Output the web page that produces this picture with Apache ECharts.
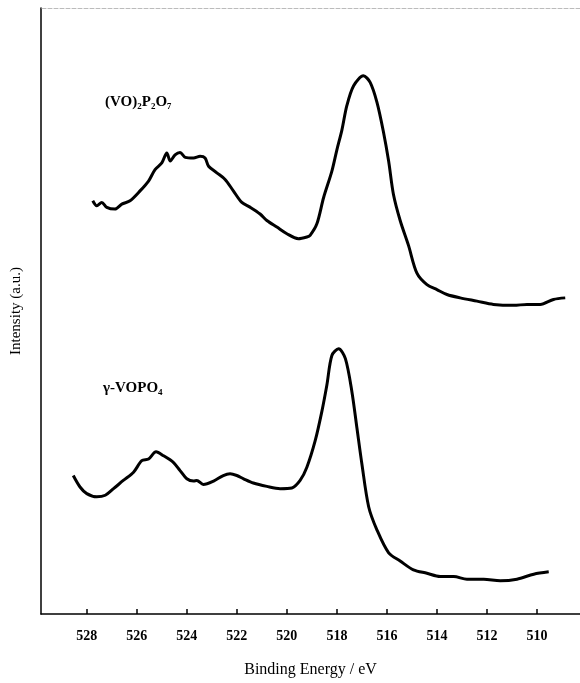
<!DOCTYPE html>
<html>
<head>
<meta charset="utf-8">
<script src="https://cdn.jsdelivr.net/npm/echarts@6/dist/echarts.min.js"></script>
<style>html,body{margin:0;padding:0;background:#fff;}#c{width:580px;height:683px;}</style>
</head>
<body>
<div id="c"></div>
<script>
// Binding energy (eV) and intensity (a.u.) for (VO)2P2O7
const vppEnergy = [527.76,527.60,527.40,527.20,526.87,526.60,526.27,525.87,525.53,525.27,525.00,524.80,524.66,524.47,524.27,524.06,523.73,523.47,523.27,523.13,522.80,522.47,522.14,521.80,521.46,521.07,520.80,520.40,520.00,519.54,519.20,519.07,518.80,518.53,518.20,518.00,517.80,517.60,517.33,516.94,516.67,516.40,516.14,515.93,515.74,515.47,515.14,514.80,514.40,514.00,513.60,513.07,512.40,511.74,510.93,510.40,509.87,509.34,508.87];
const vppIntensity = [418.7,413.7,417,412,410.3,415.3,418.7,428.7,438.7,450.3,457,467,459,465.3,467.7,462.7,462,463.7,462,453.7,447,440.3,428.7,417,412,405.3,398.7,392,385.3,380.3,382,383.7,395.3,422,448.7,470.3,490.3,515.3,535.3,545.3,538.7,518.7,488.7,458.7,425.3,398.7,373.7,345.3,333.7,328.7,323.7,320.3,317,313.7,312.7,313.7,313.7,318.7,320.3];
// gamma-VOPO4
const vopEnergy = [528.54,528.27,528.00,527.60,527.26,526.93,526.54,526.13,525.80,525.53,525.23,524.93,524.54,524.27,524.00,523.73,523.60,523.34,522.93,522.54,522.27,522.00,521.73,521.34,520.80,520.27,519.80,519.47,519.20,518.87,518.60,518.40,518.20,517.93,517.66,517.40,517.20,517.00,516.73,516.40,515.93,515.47,514.94,514.40,513.87,513.33,512.80,512.13,511.47,510.80,510.13,509.53];
const vopIntensity = [140.3,128.7,122,118.7,120.3,127,135.3,143.7,155.3,157,164.3,160.3,153.7,145.3,137,134.7,135.3,131.3,134.7,140.3,142,140.3,137,132.7,129.3,127,127.7,135.3,148.7,175.3,205.3,232,262,268.7,258.7,225.3,188.7,152,108.7,85.3,62,53.7,44.7,41.3,38,38,35.3,35.3,33.7,35.3,40.3,42.7];
const tickValues = [528,526,524,522,520,518,516,514,512,510];
const seriesNames = ['(VO)₂P₂O₇', 'γ-VOPO₄'];

const zip = (a, b) => a.map((v, i) => [v, b[i]]);
const serif = "'Liberation Serif','DejaVu Serif',serif";

const chart = echarts.init(document.getElementById('c'));
function note(coord, text) {
  return {
    symbol: 'rect', symbolSize: 0, silent: true,
    data: [{ coord: coord, label: { show: true, position: 'right', distance: 0, formatter: text,
      fontFamily: serif, fontWeight: 'bold', fontSize: 15, color: '#000' } }]
  };
}
chart.setOption({
  animation: false,
  backgroundColor: '#fff',
  grid: { left: 41, right: 0, top: 8, bottom: 61 },
  xAxis: [{
    type: 'value', inverse: true, min: 508.28, max: 529.83,
    name: 'Binding Energy / eV', nameLocation: 'middle', nameGap: 48,
    nameTextStyle: { fontFamily: serif, fontSize: 16, color: '#000' },
    axisLine: { show: true, lineStyle: { color: '#000', width: 1.5 } },
    axisTick: { show: true, inside: true, length: 5, customValues: tickValues, lineStyle: { color: '#000', width: 1.5 } },
    axisLabel: { customValues: tickValues, margin: 15, fontFamily: serif, fontWeight: 'bold', fontSize: 14, color: '#000' },
    splitLine: { show: false }
  }, {
    type: 'value', position: 'top', inverse: true, min: 508.28, max: 529.83,
    axisLine: { show: true, lineStyle: { color: '#bbb', width: 1, type: 'dashed' } },
    axisTick: { show: false }, axisLabel: { show: false }, splitLine: { show: false }
  }],
  yAxis: {
    type: 'value', min: 0, max: 614,
    name: 'Intensity (a.u.)', nameLocation: 'middle', nameGap: 17,
    nameTextStyle: { fontFamily: serif, fontSize: 15, color: '#000' },
    axisLine: { show: true, lineStyle: { color: '#000', width: 1.5 } },
    axisTick: { show: false }, axisLabel: { show: false }, splitLine: { show: false }
  },
  series: [{
    name: seriesNames[0], type: 'line', data: zip(vppEnergy, vppIntensity),
    showSymbol: false, smooth: 0.3, lineStyle: { color: '#000', width: 3 },
    markPoint: note([527.27, 519], seriesNames[0])
  }, {
    name: seriesNames[1], type: 'line', data: zip(vopEnergy, vopIntensity),
    showSymbol: false, smooth: 0.3, lineStyle: { color: '#000', width: 3 },
    markPoint: note([527.35, 229], seriesNames[1])
  }]
});
</script>
</body>
</html>
